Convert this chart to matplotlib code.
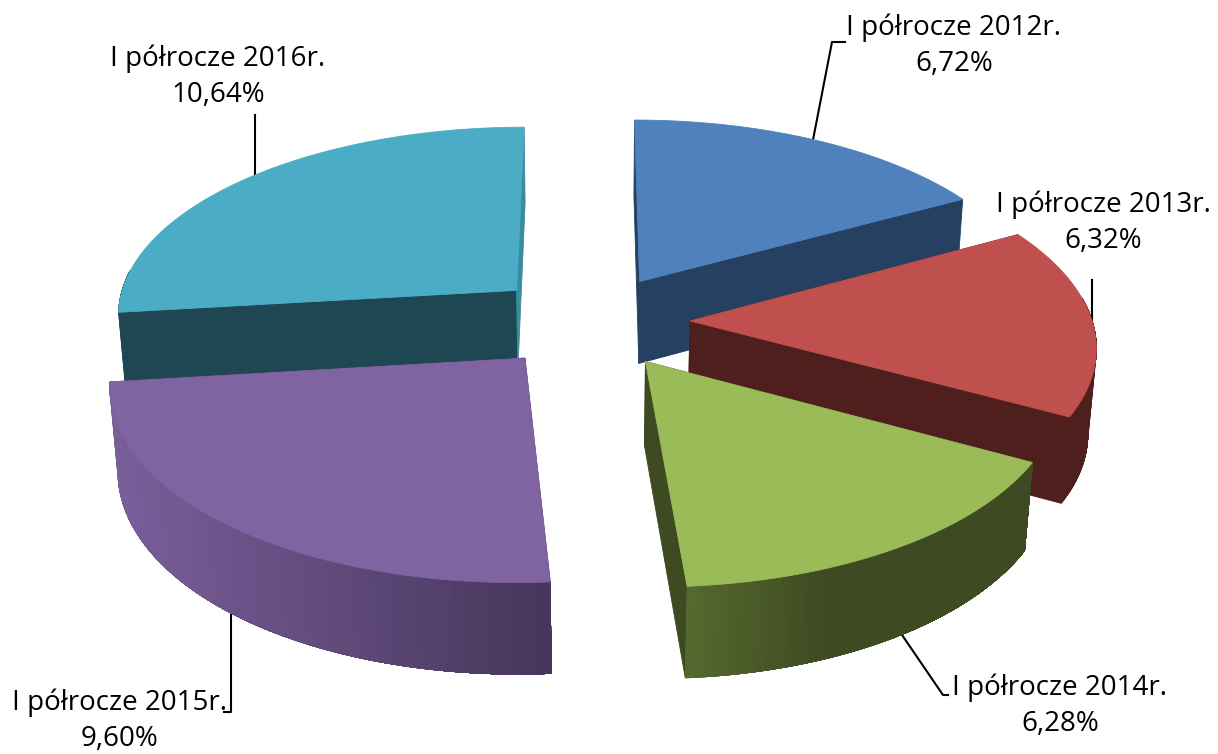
#!/usr/bin/env python
import numpy as np
import matplotlib
matplotlib.use('Agg')
import matplotlib.pyplot as plt
from matplotlib.colors import to_rgb

#-- chart data
periods = ['I półrocze 2012r.', 'I półrocze 2013r.', 'I półrocze 2014r.',
           'I półrocze 2015r.', 'I półrocze 2016r.']
values = [6.72, 6.32, 6.28, 9.60, 10.64]
value_labels = ['6,72%', '6,32%', '6,28%', '9,60%', '10,64%']

#-- slice colours: top, cut faces, rim at left end, rim at right end
top_colors = ['#4F81BD', '#C0504D', '#9BBB59', '#8064A2', '#4BACC6']
start_cut_colors = ['#254061', '#4F1F1D', '#3E4A21', '#3F3052', '#1F4753']
end_cut_colors = ['#254061', '#4F1F1D', '#3E4A21', '#3F3052', '#3A8BA0']
rim_left = ['#254061', '#4F1F1D', '#55682F', '#7A5F9B', '#1F4753']
rim_right = ['#254061', '#4F1F1D', '#3E4A21', '#45355A', '#1F4753']
#-- part of the rim width over which the shading changes
rim_span = [1., 1., 0.4, 1., 1.]

#-- drawing order, back to front
order = [0, 4, 1, 2, 3]

#-- view parameters (world units are close to pixels)
cx, cy = 590., 321.
radius = 402.
explode = 100.
height = 92.
persp = 0.00029
persp_z = 0.00018
tilt = 0.47
drop = 0.92


def project(x, y, z):
    w = 1. + persp*y - persp_z*z
    return cx + x/w, cy - (y*tilt + z*drop)/w


def mix(c1, c2, f):
    c1 = np.array(to_rgb(c1))
    c2 = np.array(to_rgb(c2))
    return tuple(c1 + (c2 - c1)*f)


def face(ax, xs, ys, zs, color):
    px, py = project(np.array(xs), np.array(ys), np.array(zs))
    ax.fill(px, py, facecolor=color, edgecolor=color, linewidth=0.6, zorder=2)


def draw_slice(ax, i, start, end):
    mid = np.radians((start + end)/2.)
    ox, oy = explode*np.sin(mid), explode*np.cos(mid)
    th = np.radians(np.arange(start, end + 1., 1.))
    th[-1] = np.radians(end)
    rx = ox + radius*np.sin(th)
    ry = oy + radius*np.cos(th)

    #-- the two cut faces
    cuts = [(0, start_cut_colors[i]), (-1, end_cut_colors[i])]
    if mid < np.pi:
        cuts = cuts[::-1]
    for j, color in cuts:
        face(ax, [ox, rx[j], rx[j], ox], [oy, ry[j], ry[j], oy],
             [0, 0, -height, -height], color)

    #-- outer wall, only the part facing the viewer
    #-- each step is painted over the rest so no seams show
    front = np.cos(th) < 0.12
    wx, wy = rx[front], ry[front]
    if len(wx) > 1:
        px, _ = project(wx, wy, 0*wx)
        width = max((px.max() - px.min())*rim_span[i], 1.)
        if px[0] > px[-1]:
            wx, wy, px = wx[::-1], wy[::-1], px[::-1]
        for j in range(len(wx) - 1):
            f = np.clip((px[j] - px.min())/width, 0, 1)
            color = mix(rim_left[i], rim_right[i], f)
            face(ax, np.r_[wx[j:], wx[j:][::-1]], np.r_[wy[j:], wy[j:][::-1]],
                 np.r_[0*wx[j:], -height + 0*wx[j:]], color)

    #-- top
    face(ax, np.r_[ox, rx], np.r_[oy, ry], np.zeros(len(rx) + 1), top_colors[i])


fig = plt.figure(figsize=(12.18, 7.54), dpi=100)
ax = fig.add_axes([0, 0, 1, 1])
ax.set_xlim(0, 1218)
ax.set_ylim(754, 0)
ax.axis('off')

#-- slice angles run clockwise from the top
edges = np.r_[0., np.cumsum(values)]/np.sum(values)*360.
for i in order:
    draw_slice(ax, i, edges[i], edges[i+1])

#-- labels and leader lines
label_pos = [(954, 46), (1103, 223), (1060, 706), (120, 721), (218, 77)]
leaders = [[(845, 42), (832, 42), (812, 145)],
           [(1092, 280), (1092, 325)],
           [(900, 632), (943, 695), (948, 695)],
           [(231, 605), (231, 712), (224, 712)],
           [(255, 115), (255, 185)]]
for i in range(len(values)):
    x, y = label_pos[i]
    ax.text(x, y, periods[i] + '\n' + value_labels[i], ha='center', va='center',
            fontsize=20, family='Open Sans', color='black', linespacing=1.37)
    ax.plot(*zip(*leaders[i]), color='black', linewidth=1.5, zorder=1)

fig.savefig('out.png', dpi=100)
